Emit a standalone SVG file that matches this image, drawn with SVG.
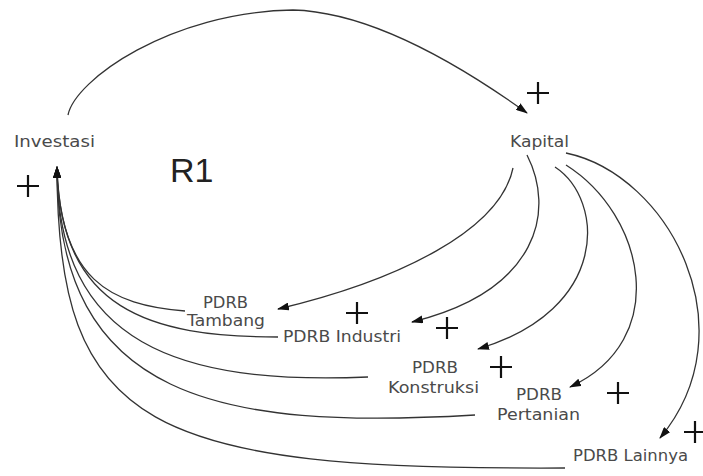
<svg xmlns="http://www.w3.org/2000/svg" width="703" height="476" viewBox="0 0 703 476">
  <style>
    .lbl { font-family: "DejaVu Sans", Verdana, sans-serif; font-size: 16px; fill: #4a4a4a; text-anchor: middle; }
    .loop { font-family: "Liberation Sans", Arial, sans-serif; font-size: 34px; fill: #222; }
    .link { fill: none; stroke: #333; stroke-width: 1.3; }
    .arr { marker-end: url(#head); }
    .pol { stroke: #111; stroke-width: 2.2; fill: none; }
  </style>
  <defs>
    <marker id="head" viewBox="0 0 12 8" refX="11" refY="4" markerWidth="12" markerHeight="8" markerUnits="userSpaceOnUse" orient="auto">
      <path d="M0,0 L12,4 L0,8 Z" fill="#111"/>
    </marker>
    <path id="plus" d="M-11,0 H11 M0,-11 V11"/>
  </defs>

  <rect width="703" height="476" fill="#fff"/>

  <g id="connectors">
    <!-- Investasi -> Kapital -->
    <path class="link arr" d="M68,115 C75,80 170,12 293,10 C370,12 460,65 527,113"/>
    <!-- Kapital -> sector outputs -->
    <path class="link arr" d="M513,168 C500,230 400,280 278,309"/>
    <path class="link arr" d="M527,155 C555,210 540,290 412,322"/>
    <path class="link arr" d="M555,167 C605,200 610,310 478,349"/>
    <path class="link arr" d="M566,165 C645,215 672,340 570,387"/>
    <path class="link arr" d="M566,153 C670,175 750,330 660,438"/>
    <!-- sector outputs -> Investasi -->
    <path class="link arr" d="M185,311 C110,305 60,280 57,167"/>
    <path class="link arr" d="M278,337 C150,337 60,310 57,167"/>
    <path class="link arr" d="M368,377 C180,385 57,345 57,167"/>
    <path class="link arr" d="M475,415 C220,430 57,400 57,167"/>
    <path class="link arr" d="M565,468 C150,470 57,430 57,167"/>
  </g>

  <g id="polarities" class="pol">
    <use href="#plus" x="538" y="93"/>
    <use href="#plus" x="28" y="186"/>
    <use href="#plus" x="357" y="313"/>
    <use href="#plus" x="447" y="328"/>
    <use href="#plus" x="501" y="367"/>
    <use href="#plus" x="618" y="393"/>
    <use href="#plus" x="695" y="432"/>
  </g>

  <g id="investasi"><text class="lbl" x="54.5" y="147" textLength="81" lengthAdjust="spacingAndGlyphs">Investasi</text></g>
  <g id="kapital"><text class="lbl" x="539.5" y="147" textLength="59" lengthAdjust="spacingAndGlyphs">Kapital</text></g>
  <g id="loop-r1"><text class="loop" x="170" y="182">R1</text></g>
  <g id="pdrb-tambang">
    <text class="lbl" x="225.5" y="308" textLength="45" lengthAdjust="spacingAndGlyphs">PDRB</text>
    <text class="lbl" x="226" y="326" textLength="78" lengthAdjust="spacingAndGlyphs">Tambang</text>
  </g>
  <g id="pdrb-industri"><text class="lbl" x="342" y="342" textLength="118" lengthAdjust="spacingAndGlyphs">PDRB Industri</text></g>
  <g id="pdrb-konstruksi">
    <text class="lbl" x="435" y="373" textLength="46" lengthAdjust="spacingAndGlyphs">PDRB</text>
    <text class="lbl" x="433.5" y="393" textLength="91" lengthAdjust="spacingAndGlyphs">Konstruksi</text>
  </g>
  <g id="pdrb-pertanian">
    <text class="lbl" x="539" y="400" textLength="46" lengthAdjust="spacingAndGlyphs">PDRB</text>
    <text class="lbl" x="538.5" y="420" textLength="83" lengthAdjust="spacingAndGlyphs">Pertanian</text>
  </g>
  <g id="pdrb-lainnya"><text class="lbl" x="630.5" y="461" textLength="115" lengthAdjust="spacingAndGlyphs">PDRB Lainnya</text></g>
</svg>
